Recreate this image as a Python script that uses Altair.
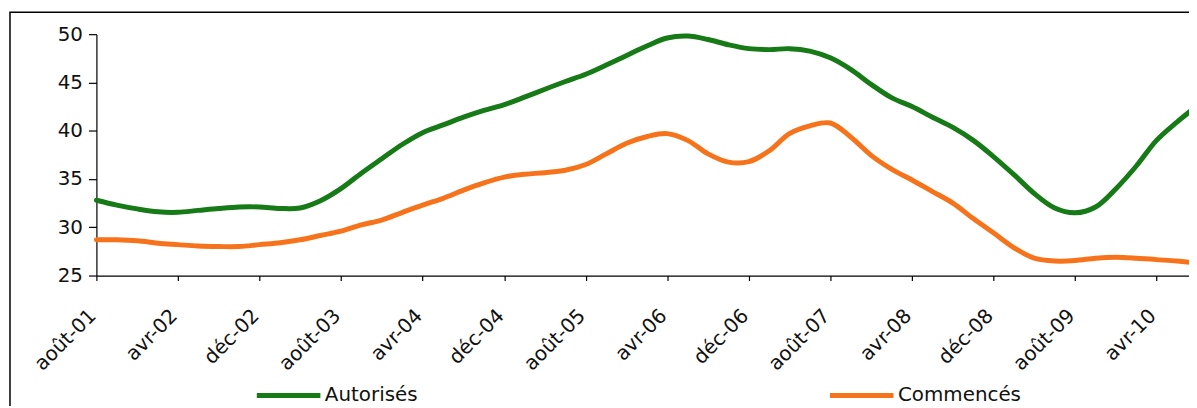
import altair as alt
import pandas as pd

# ---- data (one point every 2 months from août-01 to août-10)
mois_fr = ["janv.", "févr.", "mars", "avr", "mai", "juin", "juil.", "août", "sept.", "oct.", "nov.", "déc"]
dates = pd.date_range("2001-08-01", "2010-08-01", freq="2MS")

autorises = [32.8, 32.3, 31.9, 31.6, 31.55, 31.75, 31.95, 32.1, 32.1, 31.95,
             32.0, 32.75, 34.0, 35.6, 37.1, 38.6, 39.8, 40.6, 41.4, 42.1,
             42.7, 43.5, 44.3, 45.1, 45.85, 46.8, 47.8, 48.8, 49.6, 49.8,
             49.45, 48.9, 48.5, 48.4, 48.5, 48.25, 47.55, 46.35, 44.8, 43.4,
             42.5, 41.4, 40.35, 39.0, 37.3, 35.4, 33.5, 32.0, 31.5, 32.1,
             34.0, 36.4, 39.0, 40.9, 42.6]
commences = [28.7, 28.7, 28.6, 28.35, 28.2, 28.05, 28.0, 28.0, 28.2, 28.4,
              28.7, 29.15, 29.6, 30.25, 30.75, 31.55, 32.3, 33.0, 33.85, 34.6,
              35.2, 35.5, 35.65, 35.9, 36.5, 37.6, 38.7, 39.4, 39.7, 39.0,
              37.6, 36.75, 36.8, 37.95, 39.7, 40.5, 40.8, 39.35, 37.45, 36.0,
              34.9, 33.7, 32.5, 30.9, 29.4, 27.85, 26.8, 26.5, 26.55, 26.8,
              26.9, 26.8, 26.65, 26.5, 26.3]

series_names = ["Autorisés", "Commencés"]
series_colors = ["#167a16", "#f7731b"]
tick_dates = pd.date_range("2001-08-01", "2010-04-01", freq="8MS")
y_ticks = [25, 30, 35, 40, 45, 50]

df = pd.DataFrame({
    "date": list(dates) * 2,
    "serie": [series_names[0]] * len(dates) + [series_names[1]] * len(dates),
    "valeur": autorises + commences,
})

FONT = "DejaVu Sans"
W, H = 1100, 243

month_array = "[" + ",".join("'" + m + "'" for m in mois_fr) + "]"
label_expr = month_array + "[month(datum.value)] + '-' + timeFormat(datum.value, '%y')"

x_ticks = [alt.DateTime(year=int(d.year), month=int(d.month), date=1) for d in tick_dates]

lines = alt.Chart(df).mark_line(interpolate="catmull-rom", strokeWidth=5, strokeCap="round").encode(
    x=alt.X(
        "date:T",
        title=None,
        scale=alt.Scale(domain=[alt.DateTime(year=2001, month=8, date=1),
                                alt.DateTime(year=2010, month=7, date=7)]),
        axis=alt.Axis(values=x_ticks, labelExpr=label_expr, labelAngle=-45,
                      labelAlign="right", labelBaseline="middle", labelPadding=32,
                      labelOffset=-4, tickSize=5, labelFlush=False,
                      labelOverlap=False, grid=False),
    ),
    y=alt.Y(
        "valeur:Q",
        title=None,
        scale=alt.Scale(domain=[25, 50], nice=False, zero=False),
        axis=alt.Axis(values=y_ticks, tickSize=8, labelPadding=6, grid=False),
    ),
    color=alt.Color(
        "serie:N",
        scale=alt.Scale(domain=series_names, range=series_colors),
        legend=alt.Legend(title=None, orient="none", legendX=159, legendY=329,
                          direction="horizontal", columns=2, columnPadding=404,
                          symbolType="stroke", symbolSize=4096, symbolStrokeWidth=5,
                          labelFontSize=20, labelFont=FONT, labelOffset=2,
                          labelColor="#111111", padding=0),
    ),
)

frame = alt.Chart(pd.DataFrame({"k": [0]})).mark_rect(
    filled=False, stroke="#000000", strokeWidth=1.5
).encode(
    x=alt.value(-87), x2=alt.value(W + 60), y=alt.value(-22), y2=alt.value(H + 220)
)

chart = alt.layer(frame, lines).properties(
    width=W, height=H,
    autosize=alt.AutoSizeParams(type="none"),
    padding={"left": 89, "top": 25, "right": 0, "bottom": 130},
    background="white",
).configure_view(stroke=None).configure_axis(
    labelFont=FONT, labelFontSize=20, labelColor="#111111",
    domainColor="#000000", tickColor="#000000", domainWidth=1.2, tickWidth=1.2,
)

chart.save("out.html", embed_options={"renderer": "svg", "actions": False})
